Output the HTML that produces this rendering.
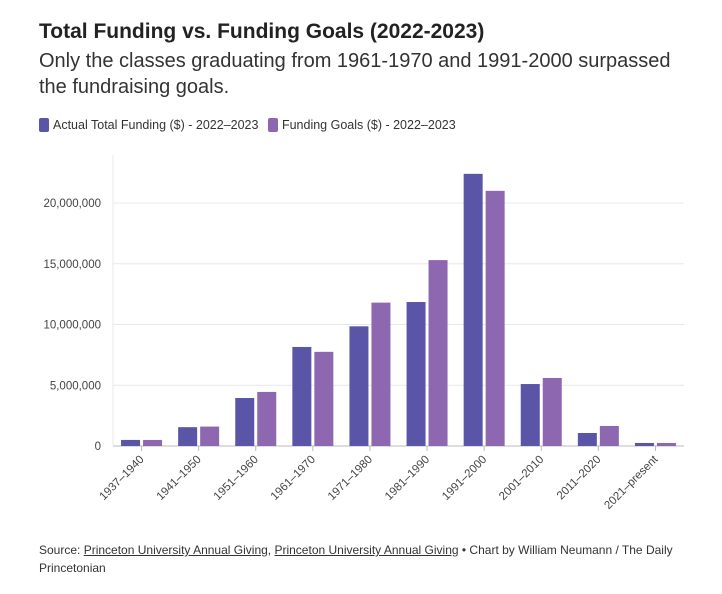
<!DOCTYPE html>
<html><head><meta charset="utf-8"><style>
body{margin:0;background:#fff;font-family:"Liberation Sans",sans-serif;color:#333;}
#wrap{position:relative;width:722px;height:594px;overflow:hidden}
h1{position:absolute;left:39px;top:20px;margin:0;font-size:21px;font-weight:bold;color:#222}
.sub{position:absolute;left:39px;top:48px;margin:0;font-size:20px;line-height:26px;color:#333;width:650px}
.legend{position:absolute;left:39px;top:117px;font-size:12.5px;color:#333}
.legend span{display:inline-block;vertical-align:middle}
.sw{width:10px;height:14px;border-radius:2px;margin-right:4px}
.src{position:absolute;left:39px;top:541px;font-size:12px;line-height:18px;color:#333;width:680px}
.src u{text-decoration:underline}
svg{position:absolute;left:0;top:0}
</style></head><body><div id="wrap">
<h1>Total Funding vs. Funding Goals (2022-2023)</h1>
<p class="sub">Only the classes graduating from 1961-1970 and 1991-2000 surpassed the fundraising goals.</p>
<div class="legend">
<span class="sw" style="background:#5a55a6"></span><span>Actual Total Funding ($) - 2022–2023</span>
<span class="sw" style="background:#8e67b1;margin-left:6px"></span><span>Funding Goals ($) - 2022–2023</span>
</div>
<svg id="c" width="722" height="594"></svg>
<div class="src">Source: <u>Princeton University Annual Giving</u>, <u>Princeton University Annual Giving</u> • Chart by William Neumann / The Daily Princetonian</div>
</div>
<script>
const categories=["1937–1940","1941–1950","1951–1960","1961–1970","1971–1980","1981–1990","1991–2000","2001–2010","2011–2020","2021–present"];
const actual=[500000,1550000,3950000,8150000,9850000,11850000,22400000,5100000,1070000,250000];
const goals=[500000,1600000,4450000,7750000,11800000,15300000,21000000,5600000,1650000,250000];
const yTicks=[0,5000000,10000000,15000000,20000000];
const yLabels=["0","5,000,000","10,000,000","15,000,000","20,000,000"];
const NS="http://www.w3.org/2000/svg";
const svg=document.getElementById('c');
const x0=113,x1=684,y0=446,pxPer=60.75/5000000;
const band=(x1-x0)/categories.length;
const y=v=>y0-v*pxPer;
const bx=i=>x0+band*i;
function mk(t,a){const e=document.createElementNS(NS,t);for(const k in a)e.setAttribute(k,a[k]);svg.appendChild(e);return e;}
yTicks.forEach((t,i)=>{
 const g=mk('line',{x1:x0,x2:x1,y1:y(t),y2:y(t),stroke:i?'#e8e8e8':'#bbb','stroke-width':1});
 
 
 const l=mk('text',{x:101,y:y(t)+4,'text-anchor':'end','font-size':11.5,fill:'#444','font-family':'Liberation Sans'});
 l.textContent=yLabels[i];
 
 
});
const bw=19,gap=3;
categories.forEach((c,i)=>{
 const cx=bx(i)+band/2;
 const a=mk('rect',{x:cx-gap/2-bw,y:y(actual[i]),width:bw,height:actual[i]*pxPer,fill:'#5a55a6'});
 
 
 const g=mk('rect',{x:cx+gap/2,y:y(goals[i]),width:bw,height:goals[i]*pxPer,fill:'#8e67b1'});
 
 
 const t=mk('line',{x1:cx,x2:cx,y1:y0,y2:y0+5,stroke:'#bbb'});
 
 
 const l=mk('text',{x:cx+3,y:y0+14,'text-anchor':'end','font-size':11.5,fill:'#444','font-family':'Liberation Sans',transform:`rotate(-45 ${cx+3} ${y0+14})`});
 l.textContent=c;
 
 
});
const ax=mk('line',{x1:x0,x2:x0,y1:155,y2:y0,stroke:'#e8e8e8'});


</script></body></html>
